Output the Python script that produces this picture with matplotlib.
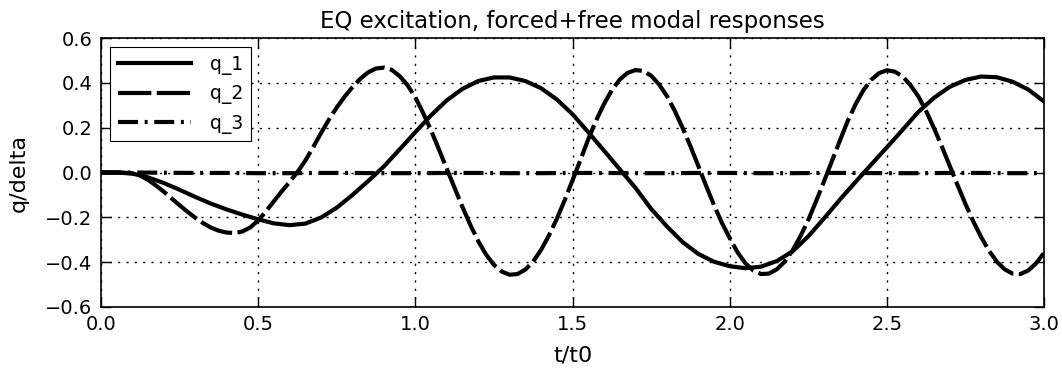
import numpy as np
import matplotlib
matplotlib.use("Agg")
import matplotlib.pyplot as plt

# modal responses
t1 = np.linspace(0.0, 3.0, 61)
q1 = [0.000, 0.000, -0.005, -0.022, -0.047, -0.077, -0.109, -0.139, -0.165, -0.188,
      -0.209, -0.227, -0.235, -0.228, -0.201, -0.157, -0.100, -0.038, 0.027, 0.103,
      0.180, 0.255, 0.322, 0.373, 0.408, 0.424, 0.424, 0.408, 0.376, 0.326,
      0.260, 0.180, 0.098, 0.015, -0.068, -0.162, -0.240, -0.310, -0.363, -0.398,
      -0.418, -0.427, -0.420, -0.395, -0.352, -0.285, -0.205, -0.122, -0.043, 0.035,
      0.112, 0.190, 0.270, 0.333, 0.382, 0.413, 0.428, 0.425, 0.405, 0.370,
      0.317]

t2 = np.linspace(0.0, 3.0, 121)
q2 = [0.000, 0.000, 0.000, -0.001, -0.004, -0.014, -0.033, -0.058, -0.086, -0.116,
      -0.146, -0.175, -0.202, -0.226, -0.246, -0.260, -0.268, -0.270, -0.263, -0.245,
      -0.214, -0.173, -0.128, -0.084, -0.042, 0.002, 0.053, 0.113, 0.176, 0.236,
      0.290, 0.338, 0.381, 0.418, 0.447, 0.464, 0.468, 0.458, 0.430, 0.390,
      0.335, 0.265, 0.188, 0.103, 0.017, -0.069, -0.154, -0.234, -0.306, -0.366,
      -0.412, -0.442, -0.456, -0.453, -0.433, -0.397, -0.345, -0.281, -0.207, -0.124,
      -0.035, 0.055, 0.148, 0.232, 0.305, 0.367, 0.414, 0.444, 0.457, 0.453,
      0.432, 0.394, 0.342, 0.276, 0.200, 0.118, 0.030, -0.059, -0.145, -0.224,
      -0.292, -0.356, -0.405, -0.437, -0.453, -0.451, -0.432, -0.398, -0.348, -0.285,
      -0.212, -0.128, -0.040, 0.050, 0.140, 0.228, 0.303, 0.366, 0.413, 0.443,
      0.456, 0.450, 0.429, 0.390, 0.340, 0.274, 0.198, 0.116, 0.030, -0.056,
      -0.140, -0.218, -0.288, -0.349, -0.398, -0.432, -0.451, -0.453, -0.437, -0.405,
      -0.359]

t3 = np.linspace(0.0, 3.0, 31)
q3 = [0.000, 0.000, -0.001, -0.002, -0.002, -0.003, -0.003, -0.002, -0.002, -0.003,
      -0.003, -0.002, -0.002, -0.003, -0.003, -0.002, -0.002, -0.003, -0.003, -0.002,
      -0.002, -0.003, -0.003, -0.002, -0.002, -0.003, -0.003, -0.002, -0.002, -0.003,
      -0.003]

fig = plt.figure(figsize=(10.62, 3.74), dpi=100)
ax = fig.add_axes([101 / 1062, 1 - 307 / 374, 943 / 1062, 269 / 374])

ax.plot(t1, q1, color="k", lw=3, label="q_1")
ax.plot(t2, q2, color="k", lw=3, dashes=(8.0, 1.3), label="q_2")
ax.plot(t3, q3, color="k", lw=3, dashes=(4.8, 1.6, 0.7, 1.6), label="q_3")

ax.set_xlim(0, 3)
ax.set_ylim(-0.6, 0.6)
ax.set_xticks([0.0, 0.5, 1.0, 1.5, 2.0, 2.5, 3.0])
ax.set_yticks([-0.6, -0.4, -0.2, 0.0, 0.2, 0.4, 0.6])
ax.grid(True, color="k", lw=1, linestyle=(0, (1.5, 4.5)))
ax.tick_params(direction="in", top=True, right=True, length=7, width=1,
               labelsize=14, pad=6)
for s in ax.spines.values():
    s.set_linewidth(1.2)

ax.set_title("EQ excitation, forced+free modal responses", fontsize=16.5, pad=7)
ax.set_xlabel("t/t0", fontsize=16, labelpad=8)
ax.set_ylabel("q/delta", fontsize=16, labelpad=12)

leg = ax.legend(loc="upper left", fontsize=13.5, handlelength=3.9, handletextpad=1.0,
                fancybox=False, framealpha=1, edgecolor="k", borderaxespad=0.5)
leg.get_frame().set_linewidth(0.8)

fig.savefig("out.png", dpi=100)
